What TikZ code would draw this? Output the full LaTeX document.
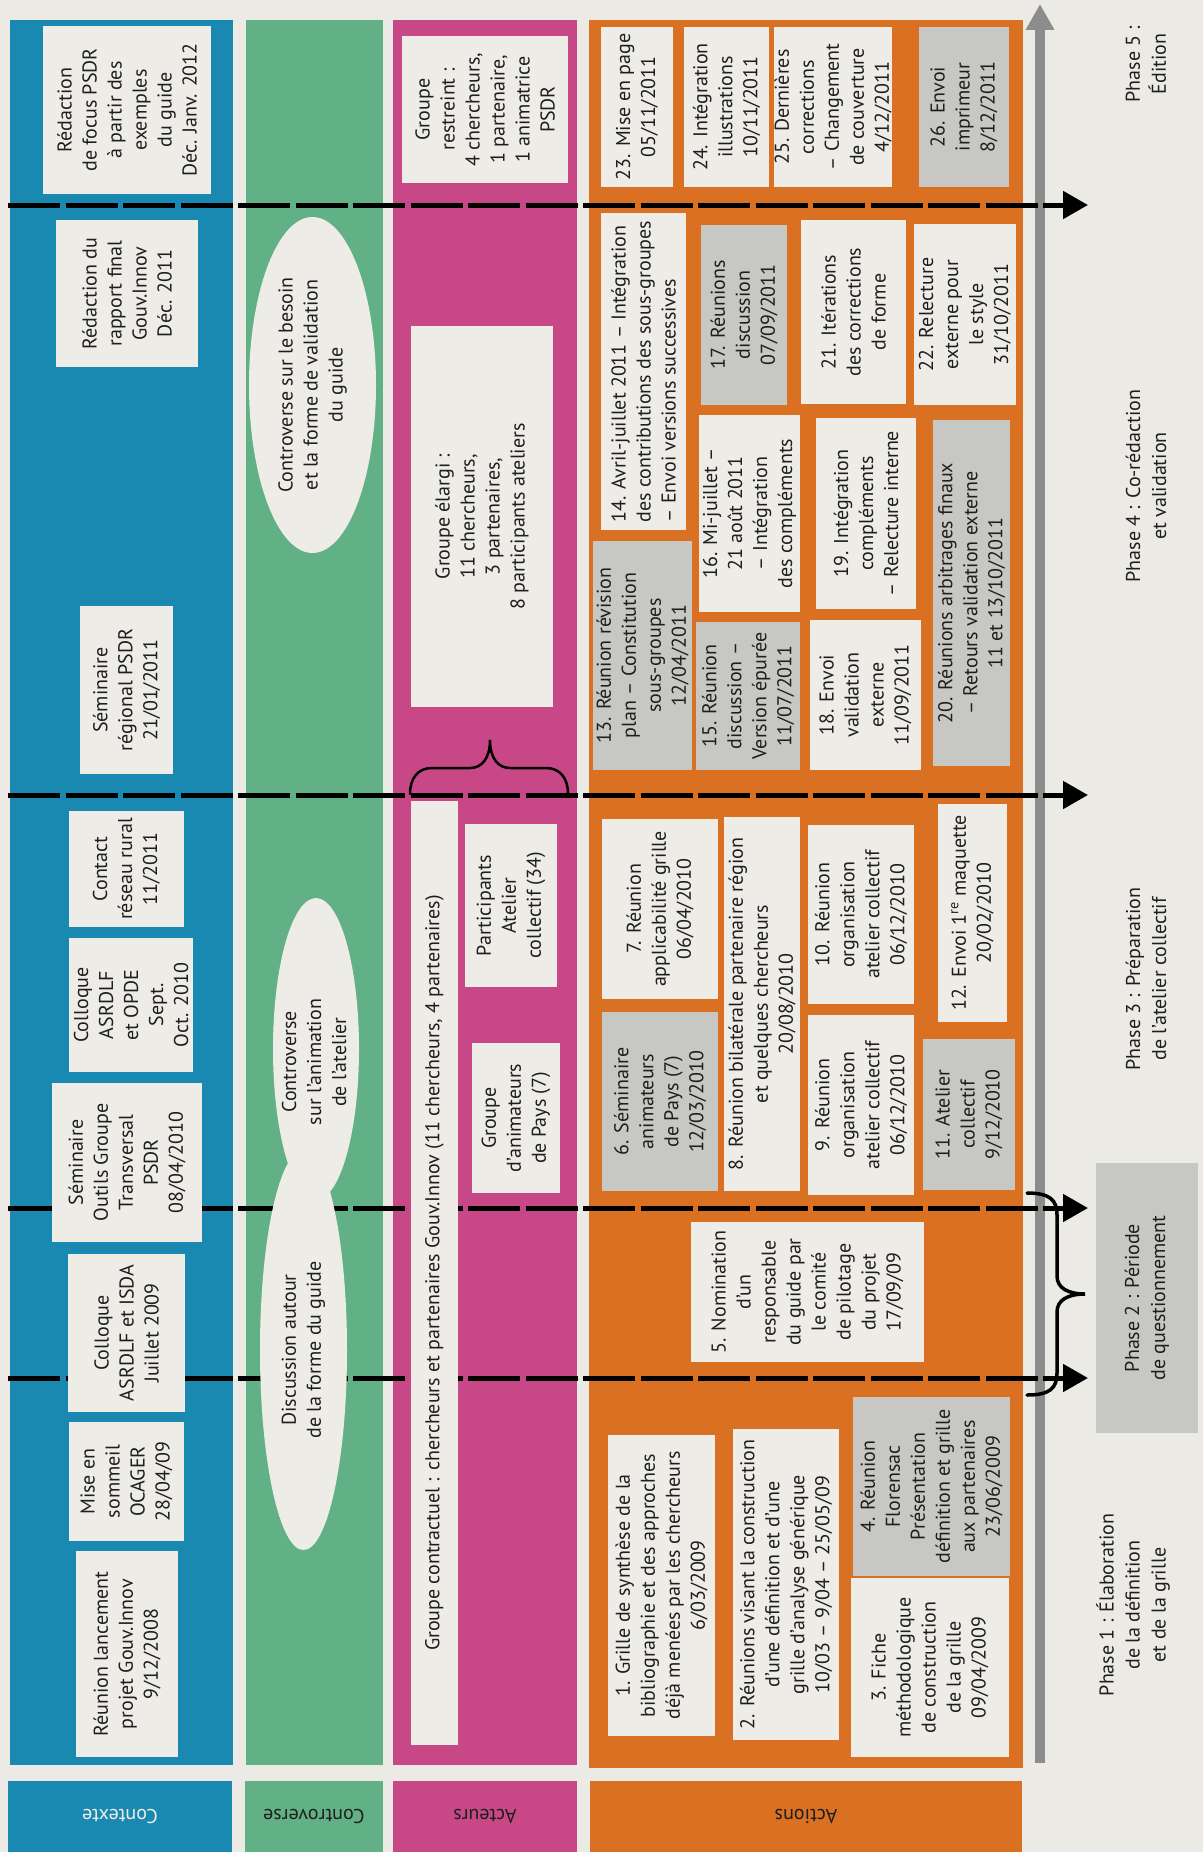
\documentclass[tikz,border=0pt]{standalone}
\usepackage{fontspec}
\setmainfont{PT Sans}
\usetikzlibrary{arrows.meta,shapes.geometric}
\definecolor{bgc}{RGB}{236,234,228}
\definecolor{boxc}{RGB}{238,236,231}
\definecolor{grayc}{RGB}{199,199,195}
\definecolor{bluec}{RGB}{26,137,177}
\definecolor{greenc}{RGB}{98,177,134}
\definecolor{pinkc}{RGB}{200,72,135}
\definecolor{orangec}{RGB}{218,112,34}
\definecolor{arrowc}{RGB}{140,140,140}
\definecolor{txt}{RGB}{30,30,30}
\newcommand\Bx[7]{%
  \pgfmathsetmacro\bxcx{(#2+#4)/2}%
  \pgfmathsetmacro\bxcy{(#3+#5)/2}%
  \pgfmathsetmacro\bxw{#5-#3}%
  \pgfmathsetmacro\bxh{#4-#2}%
  \node[#6, rotate=90, minimum width=\bxw pt, minimum height=\bxh pt] (#1) at (\bxcx,\bxcy) {#7};}
\newcommand\Lb[7]{%
  \pgfmathsetmacro\bxcx{(#2+#4)/2}%
  \pgfmathsetmacro\bxcy{(#3+#5)/2}%
  \pgfmathsetmacro\bxw{#4-#2}%
  \pgfmathsetmacro\bxh{#5-#3}%
  \node[#6, rotate=180, minimum width=\bxw pt, minimum height=\bxh pt] (#1) at (\bxcx,\bxcy) {#7};}
\tikzset{
  lbox/.style={rectangle, fill=boxc, inner sep=0pt, align=center, text=txt, font=\fontsize{20}{25}\selectfont},
  gbox/.style={lbox, fill=grayc},
  lboxl/.style={lbox, align=left},
  ell/.style={ellipse, fill=boxc, inner sep=0pt, align=center, text=txt, font=\fontsize{20}{25}\selectfont},
  phase/.style={align=center, text=txt, rotate=90, font=\fontsize{20}{26}\selectfont},
  lab/.style={rectangle, inner sep=0pt, font=\fontsize{20}{24}\selectfont},
  sep/.style={line width=5pt, black, dash pattern=on 52pt off 5.5pt, -{Triangle[length=25pt,width=27pt]}},
  garrow/.style={line width=10pt, arrowc, -{Triangle[length=26pt,width=27pt]}},
  brace/.style={line width=3.5pt, black, line cap=round}
}
\begin{document}
\begin{tikzpicture}[x=1pt,y=-1pt]
\useasboundingbox (0,0) rectangle (1203,1852);
\fill[bgc] (0,0) rectangle (1203,1852);
% bands
\fill[bluec] (10,20) rectangle (233,1765);
\fill[greenc] (246,20) rectangle (383,1765);
\fill[pinkc] (393,20) rectangle (577,1765);
\fill[orangec] (589,20) rectangle (1023,1768);
% bottom labels (upside down)
\Lb{lc}{8}{1781}{232}{1852}{lab, fill=bluec, text=boxc}{Contexte}
\Lb{lv}{245}{1781}{383}{1852}{lab, fill=greenc, text=txt}{Controverse}
\Lb{la}{393}{1781}{577}{1852}{lab, fill=pinkc, text=txt}{Acteurs}
\Lb{lx}{590}{1781}{1022}{1852}{lab, fill=orangec, text=txt}{Actions}
% phase 2 box
\Bx{ph2}{1096}{1163}{1198}{1433}{rectangle, fill=grayc, inner sep=0pt, align=center, text=txt, font=\fontsize{20}{26}\selectfont}{Phase 2 : Période\\de questionnement}
% gray time arrow
\coordinate (ga1) at (1040,1763);
\coordinate (ga2) at (1040,4);
\draw[garrow] (ga1) -- (ga2);
% separators
\foreach \yy/\nn in {205/a,795/b,1208/c,1378/d}{
  \coordinate (s\nn) at (8,\yy);
  \coordinate (e\nn) at (1088,\yy);
  \draw[sep] (s\nn) -- (e\nn);
}
% braces
\coordinate (bt) at (1027,1193);
\coordinate (bb) at (1027,1395);
\draw[brace] (bt) .. controls (1050,1193) and (1057,1200) .. (1057,1215) -- (1057,1276) .. controls (1057,1288) and (1068,1294) .. (1085,1294) .. controls (1068,1294) and (1057,1300) .. (1057,1312) -- (1057,1373) .. controls (1057,1388) and (1050,1395) .. (bb);
\coordinate (pl) at (410,794);
\coordinate (pr) at (568,794);
\draw[brace, line width=2.5pt] (pl) .. controls (410,778) and (418,768) .. (432,768) -- (470,768) .. controls (482,768) and (490,758) .. (490,740) .. controls (490,758) and (498,768) .. (510,768) -- (546,768) .. controls (560,768) and (568,778) .. (pr);
% Contexte
\Bx{c1}{43}{26}{211}{194}{lbox}{Rédaction\\de focus PSDR\\à partir des\\exemples\\du guide\\Déc. Janv. 2012}
\Bx{c2}{56}{220}{198}{367}{lbox}{Rédaction du\\rapport final\\Gouv.Innov\\Déc. 2011}
\Bx{c3}{80}{606}{173}{774}{lbox}{Séminaire\\régional PSDR\\21/01/2011}
\Bx{c4}{69}{811}{184}{927}{lbox}{Contact\\réseau rural\\11/2011}
\Bx{c5}{69}{938}{193}{1072}{lbox}{Colloque\\ASRDLF\\et OPDE\\Sept.\\Oct. 2010}
\Bx{c6}{52}{1083}{202}{1242}{lbox}{Séminaire\\Outils Groupe\\Transversal\\PSDR\\08/04/2010}
\Bx{c7}{68}{1254}{185}{1412}{lbox}{Colloque\\ASRDLF et ISDA\\Juillet 2009}
\Bx{c8}{69}{1422}{184}{1541}{lbox}{Mise en\\sommeil\\OCAGER\\28/04/09}
\Bx{c9}{76}{1551}{178}{1757}{lbox}{Réunion lancement\\projet Gouv.Innov\\9/12/2008}
% Controverse
\Bx{v1}{249}{217}{376}{553}{ell}{Controverse sur le besoin\\et la forme de validation\\du guide}
\Bx{v2}{273}{898}{359}{1200}{ell}{}
\Bx{v3}{260}{1150}{347}{1550}{ell}{Discussion autour\\de la forme du guide}
\node[phase, font=\fontsize{20}{25}\selectfont] (v2t) at (314,1062) {Controverse\\sur l’animation\\de l’atelier};
% Acteurs
\Bx{a1}{402}{36}{568}{183}{lbox}{Groupe\\restreint :\\4 chercheurs,\\1 partenaire,\\1 animatrice\\PSDR}
\Bx{a2}{411}{326}{553}{707}{lbox}{Groupe élargi :\\11 chercheurs,\\3 partenaires,\\8 participants ateliers}
\Bx{a3}{411}{801}{458}{1745}{lbox}{Groupe contractuel : chercheurs et partenaires Gouv.Innov (11 chercheurs, 4 partenaires)}
\Bx{a4}{465}{824}{557}{987}{lbox}{Participants\\Atelier\\collectif (34)}
\Bx{a5}{472}{1043}{560}{1193}{lbox}{Groupe\\d’animateurs\\de Pays (7)}
% Actions
\Bx{n23}{601}{27}{673}{187}{lbox}{23. Mise en page\\05/11/2011}
\Bx{n24}{684}{27}{769}{187}{lbox}{24. Intégration\\illustrations\\10/11/2011}
\Bx{n25}{777}{27}{889}{187}{lbox}{25. Dernières\\corrections\\– Changement\\de couverture\\4/12/2011}
\Bx{n26}{919}{27}{1009}{187}{gbox}{26. Envoi\\imprimeur\\8/12/2011}
\Bx{n14}{601}{213}{686}{530}{lboxl}{14. Avril-juillet 2011 – Intégration\\des contributions des sous-groupes\\– Envoi versions successives}
\Bx{n17}{701}{225}{787}{405}{gbox}{17. Réunions\\discussion\\07/09/2011}
\Bx{n21}{801}{220}{906}{404}{lbox}{21. Itérations\\des corrections\\de forme}
\Bx{n22}{914}{224}{1016}{405}{lbox}{22. Relecture\\externe pour\\le style\\31/10/2011}
\Bx{n13}{593}{541}{692}{770}{gbox}{13. Réunion révision\\plan – Constitution\\sous-groupes\\12/04/2011}
\Bx{n16}{699}{415}{800}{612}{lbox}{16. Mi-juillet –\\21 août 2011\\– Intégration\\des compléments}
\Bx{n15}{696}{622}{800}{770}{gbox}{15. Réunion\\discussion –\\Version épurée\\11/07/2011}
\Bx{n19}{816}{418}{916}{609}{lbox}{19. Intégration\\compléments\\– Relecture interne}
\Bx{n18}{810}{620}{921}{770}{lbox}{18. Envoi\\validation\\externe\\11/09/2011}
\Bx{n20}{933}{420}{1010}{766}{gbox}{20. Réunions arbitrages finaux\\– Retours validation externe\\11 et 13/10/2011}
\Bx{n7}{602}{819}{718}{999}{lbox}{7. Réunion\\applicabilité grille\\06/04/2010}
\Bx{n6}{602}{1012}{718}{1191}{gbox}{6. Séminaire\\animateurs\\de Pays (7)\\12/03/2010}
\Bx{n8}{724}{817}{800}{1191}{lbox}{8. Réunion bilatérale partenaire région\\et quelques chercheurs\\20/08/2010}
\Bx{n10}{808}{825}{914}{1004}{lbox}{10. Réunion\\organisation\\atelier collectif\\06/12/2010}
\Bx{n9}{808}{1015}{914}{1195}{lbox}{9. Réunion\\organisation\\atelier collectif\\06/12/2010}
\Bx{n12}{938}{804}{1007}{1022}{lbox}{12. Envoi 1\textsuperscript{re} maquette\\20/02/2010}
\Bx{n11}{923}{1039}{1015}{1190}{gbox}{11. Atelier\\collectif\\9/12/2010}
\Bx{n5}{691}{1222}{924}{1362}{lbox}{5. Nomination\\d’un\\responsable\\du guide par\\le comité\\de pilotage\\du projet\\17/09/09}
\Bx{n1}{608}{1435}{715}{1736}{lbox}{1. Grille de synthèse de la\\bibliographie et des approches\\déjà menées par les chercheurs\\6/03/2009}
\Bx{n2}{733}{1429}{839}{1740}{lbox}{2. Réunions visant la construction\\d’une définition et d’une\\grille d’analyse générique\\10/03 – 9/04 – 25/05/09}
\Bx{n4}{853}{1397}{1010}{1576}{gbox}{4. Réunion\\Florensac\\Présentation\\définition et grille\\aux partenaires\\23/06/2009}
\Bx{n3}{851}{1578}{1009}{1757}{lbox}{3. Fiche\\méthodologique\\de construction\\de la grille\\09/04/2009}
% Phases
\node[phase] (p5) at (1146,64) {Phase 5 :\\Édition};
\node[phase] (p4) at (1146,486) {Phase 4 : Co-rédaction\\et validation};
\node[phase] (p3) at (1146,979) {Phase 3 : Préparation\\de l’atelier collectif};
\node[phase] (p1) at (1133,1605) {Phase 1 : Élaboration\\de la définition\\et de la grille};
\end{tikzpicture}
\end{document}
